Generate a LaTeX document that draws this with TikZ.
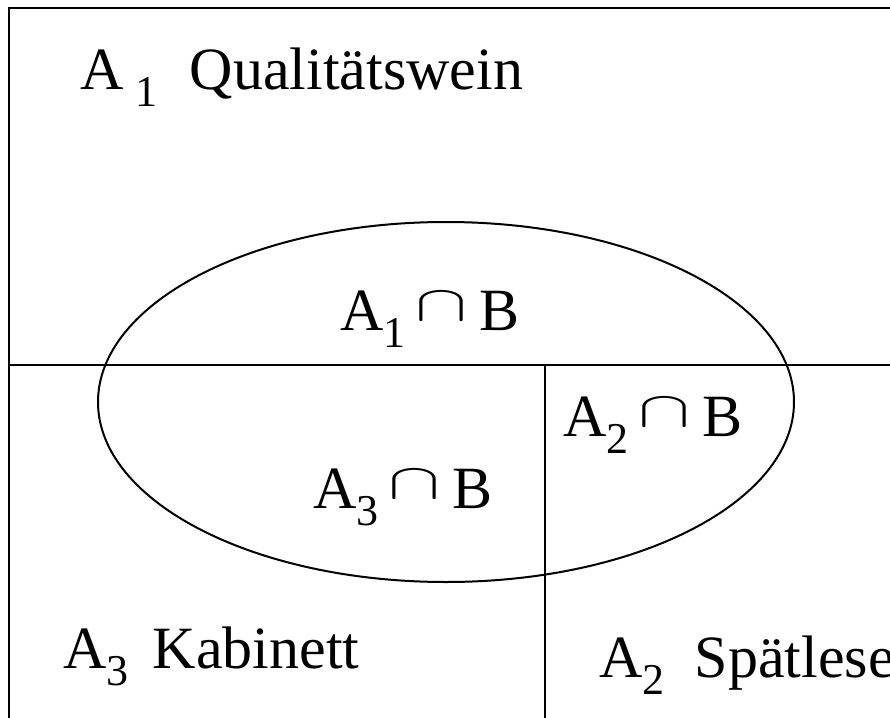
\documentclass[tikz,border=0pt]{standalone}
\usepackage{fontspec}
\setmainfont{Liberation Serif}
\tikzset{
  wline/.style={black, line width=1pt},
  wlbl/.style={anchor=base west, inner sep=0pt, font=\fontsize{30}{36}\selectfont},
}
\newcommand{\ix}[1]{\raisebox{-8.5pt}{\fontsize{22}{26}\selectfont #1}}
\newcommand{\schnitt}{\raisebox{5pt}{\resizebox{26pt}{14pt}{$\cap$}}}

\begin{document}
\begin{tikzpicture}[x=0.5pt,y=-0.5pt]
  \useasboundingbox (0,0) rectangle (890,718);

  % Rahmen und Zerlegung A1, A2, A3
  \draw[wline] (9,718) -- (9,8) -- (890,8);
  \draw[wline] (9,365) -- (890,365);
  \draw[wline] (545,365) -- (545,718);

  % Ereignis B
  \draw[wline] (446,402) ellipse [x radius=348, y radius=180];

  % Beschriftungen
  \node[wlbl] (qual) at (80,89) {A\hspace{6pt}\ix{1}\hspace{16pt}Qualitätswein};
  \node[wlbl] (kab) at (63,668) {A\ix{3}\hspace{12pt}Kabinett};
  \node[wlbl] (spaet) at (599,677) {A\ix{2}\hspace{15pt}Spätlese};
  \node[wlbl] (ab1) at (340,330) {A\ix{1}\hspace{5pt}\schnitt\hspace{6pt}B};
  \node[wlbl] (ab2) at (563,436) {A\ix{2}\hspace{5pt}\schnitt\hspace{6pt}B};
  \node[wlbl] (ab3) at (313,508) {A\ix{3}\hspace{5pt}\schnitt\hspace{6pt}B};
\end{tikzpicture}
\end{document}
